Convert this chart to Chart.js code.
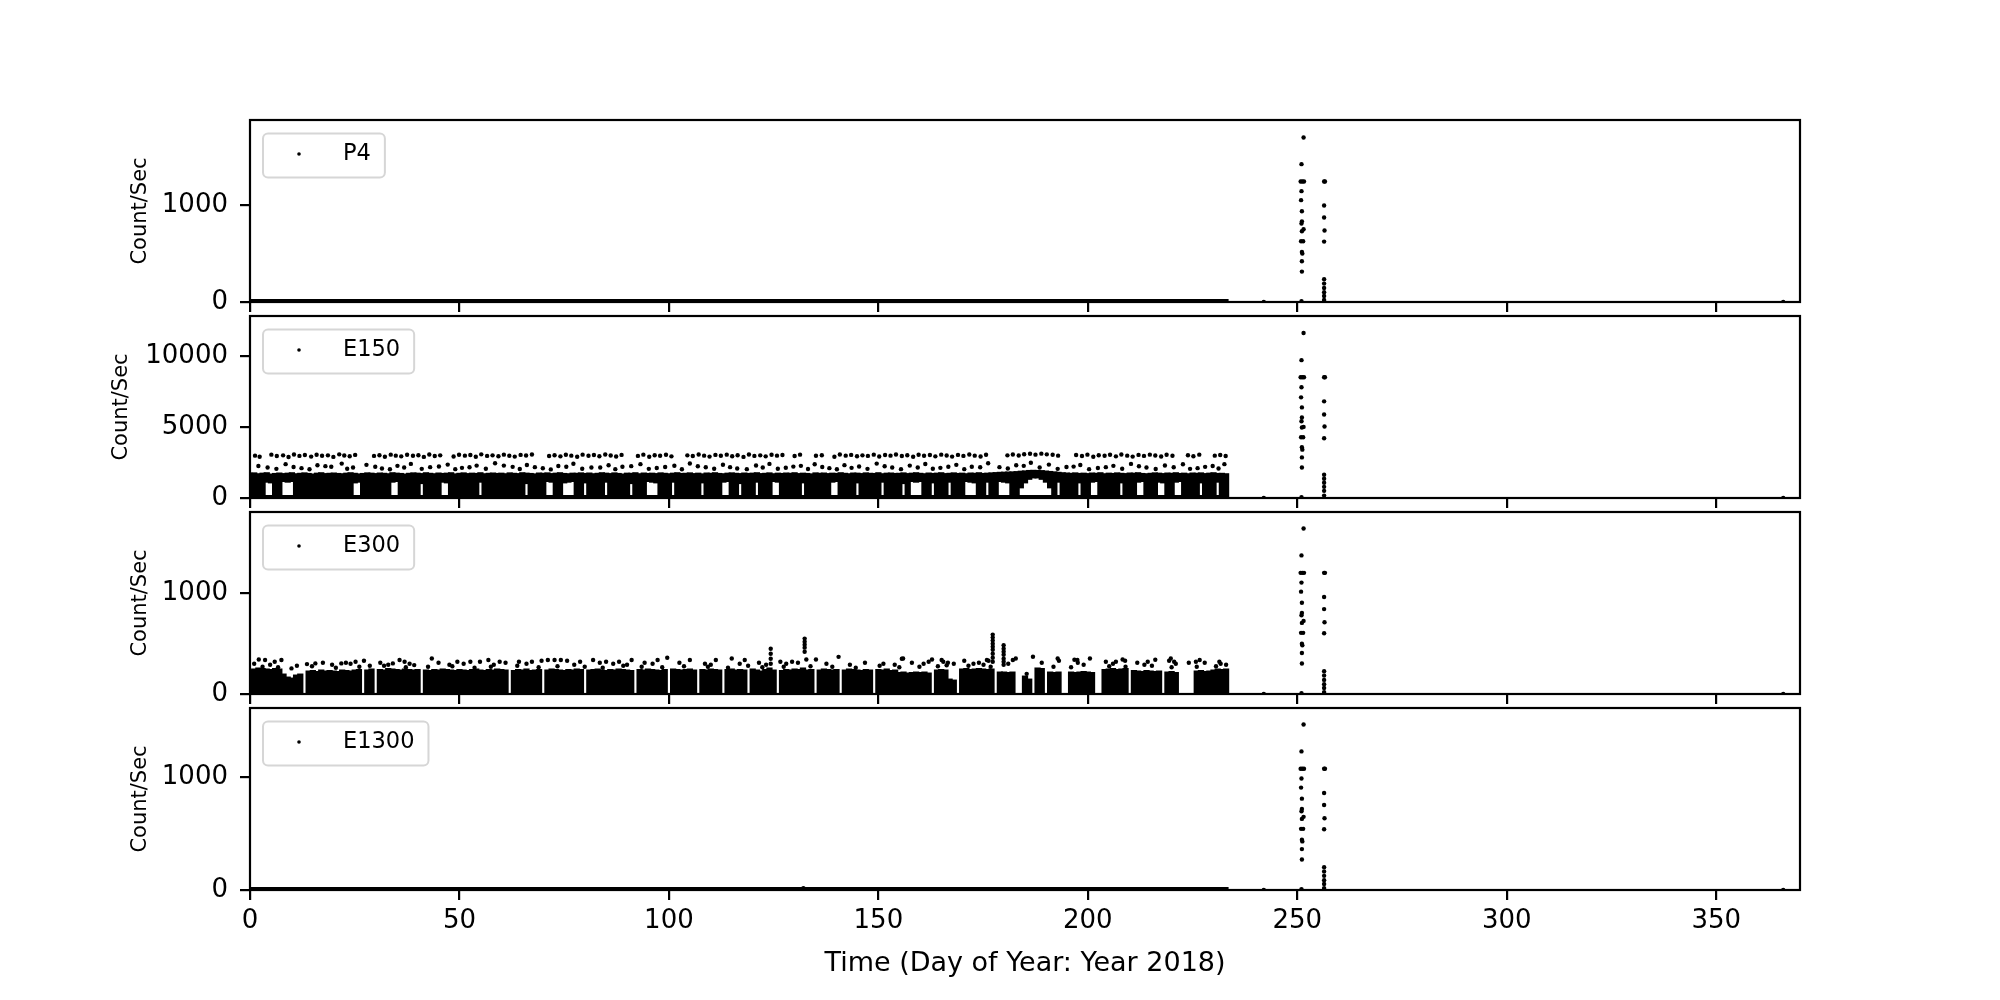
<!DOCTYPE html>
<html>
<head>
<meta charset="utf-8">
<script src="https://cdn.jsdelivr.net/npm/chart.js@4.4.0/dist/chart.umd.min.js"></script>
<style>
    html, body { margin: 0; padding: 0; background: #fff; }
    #wrap { position: relative; width: 2000px; height: 1000px; background: #fff; }
    #wrap canvas { position: absolute; left: 0; }
</style>
</head>
<body>
<div id="wrap">
    <canvas id="cP4" width="2000" height="208" style="top:110px"></canvas>
    <canvas id="cE150" width="2000" height="208" style="top:306px"></canvas>
    <canvas id="cE300" width="2000" height="208" style="top:502px"></canvas>
    <canvas id="cE1300" width="2000" height="286" style="top:698px"></canvas>
</div>
<script>
// ---- data ----
const xTicks = [0, 50, 100, 150, 200, 250, 300, 350];
const p4YTicks = [0, 1000];
const e150YTicks = [0, 5000, 10000];
const e300YTicks = [0, 1000];
const e1300YTicks = [0, 1000];

// the two bursts near day 251 and day 256 (same sample times in every channel)
const spikeADays = [251.5, 251.0, 250.8, 251.2, 251.6, 251.0, 250.9, 251.1, 251.1, 251.0, 251.5, 251.1, 250.9, 251.4, 251.1, 251.2, 251.1, 251.1, 251.0];
const spikeBDays = [256.4, 256.6, 256.4, 256.4, 256.5, 256.4, 256.4, 256.4, 256.4, 256.4, 256.4, 256.4];
const zeroDays = [242, 366];
const zeroVals = [0, 0];

const p4SpikeA = [1700, 1424, 1245, 1245, 1245, 1145, 1052, 938, 833, 810, 752, 731, 628, 628, 517, 500, 421, 314, 8];
const p4SpikeB = [1245, 1245, 997, 873, 738, 624, 235, 190, 145, 100, 62, 20];
const e150SpikeA = [11605, 9696, 8494, 8494, 8494, 7786, 7079, 6372, 5665, 5403, 5000, 4958, 4272, 4272, 3564, 3400, 2857, 2150, 50];
const e150SpikeB = [8494, 8494, 6796, 5877, 5028, 4200, 1633, 1350, 1068, 785, 502, 170];
const e300SpikeA = [1643, 1376, 1203, 1203, 1203, 1106, 1016, 906, 805, 782, 726, 706, 607, 607, 499, 483, 407, 303, 8];
const e300SpikeB = [1203, 1203, 963, 843, 713, 603, 227, 184, 140, 97, 60, 19];
const e1300SpikeA = [1464, 1226, 1072, 1072, 1072, 986, 906, 808, 717, 697, 647, 629, 541, 541, 445, 430, 362, 270, 8];
const e1300SpikeB = [1072, 1072, 858, 752, 635, 537, 202, 164, 125, 86, 53, 17];
const e1300ExtraDays = [132.1];
const e1300ExtraVals = [15];

// near-zero quiet level (days 0 - 233.6)
const quietDays = [0.2, 233.6];
const quietVals = [0, 0];

// E150: dense band, one value per day (day 0 .. 233)
const e150Top = [
    1750,1780,1720,1760,1790,1700,1740,1770,1730,1760,1790,1720,1750,1780,1740,1700,1760,1790,1730,1750,
    1770,1740,1720,1760,1790,1750,1710,1740,1780,1760,1730,1770,1750,1720,1790,1760,1740,1700,1750,1780,
    1760,1730,1790,1750,1720,1770,1740,1760,1790,1710,1750,1780,1730,1760,1740,1790,1720,1750,1770,1740,
    1760,1720,1780,1750,1730,1790,1760,1740,1710,1770,1750,1780,1730,1760,1790,1740,1720,1760,1750,1780,
    1740,1770,1720,1750,1790,1760,1730,1780,1740,1700,1760,1750,1790,1720,1770,1740,1760,1730,1780,1750,
    1720,1760,1790,1740,1750,1780,1730,1760,1710,1770,1750,1790,1740,1720,1760,1780,1750,1730,1770,1740,
    1760,1790,1730,1750,1780,1720,1760,1740,1770,1750,1790,1730,1760,1740,1710,1780,1750,1770,1730,1760,
    1740,1790,1750,1720,1770,1760,1730,1780,1750,1740,1790,1720,1760,1770,1740,1750,1780,1730,1760,1790,
    1750,1720,1770,1740,1760,1790,1730,1750,1780,1740,1760,1720,1770,1750,1790,1740,1760,1780,1800,1820,
    1830,1840,1850,1870,1900,1920,1950,1960,1950,1940,1910,1880,1850,1820,1790,1770,1750,1780,1740,1760,
    1730,1770,1750,1790,1720,1760,1740,1780,1750,1730,1770,1760,1790,1740,1720,1750,1780,1760,1730,1770,
    1750,1790,1740,1760,1720,1770,1750,1780,1730,1760,1790,1740,1750,1720
];
// days where the lower part of the E150 band is empty, and where the band starts there
const e150NotchDays = [4,5,8,9,10,25,26,34,35,41,46,47,55,66,71,72,75,76,77,80,85,91,95,96,97,101,108,113,114,117,
    121,125,126,132,139,140,145,151,156,158,159,160,163,167,171,172,173,176,179,180,181,
    184,185,186,187,188,189,190,191,193,198,201,202,208,212,213,217,218,221,222,227,231];
const e150NotchLow = [1100,1050,1150,1100,1150,1050,1100,1100,1150,1000,1100,1050,1100,1000,1150,1100,1050,1100,1150,1050,1100,1000,1150,1100,1050,1100,1050,1100,1150,1000,
    1100,1150,1100,1050,1100,1150,1050,1100,1000,1150,1100,1150,1050,1100,1150,1100,1050,1100,1150,1100,1050,
    700,1050,1300,1400,1400,1300,1100,700,1100,1050,1100,1150,1050,1100,1150,1100,1050,1100,1150,1050,1100];

// E150 upper scattered rows
const e150UpperDays = [1.2,2.3,5.1,6.4,7.9,9.2,10.5,11.8,13.1,14.6,15.9,17.2,18.6,19.9,21.3,22.5,23.8,25.1,29.6,30.9,
    32.2,33.6,34.8,36.1,37.5,38.9,40.2,41.5,42.8,44.1,45.4,48.6,49.9,51.3,52.6,53.9,55.2,56.6,57.9,59.3,
    60.6,61.9,63.2,64.6,65.9,67.3,71.4,72.7,74.1,75.4,76.7,78.1,79.4,80.8,82.1,83.4,84.8,86.1,87.4,88.7,
    92.6,93.9,95.3,96.6,97.9,99.3,100.6,104.4,105.7,107.1,108.4,109.7,111.1,112.4,113.8,115.1,116.4,117.8,119.1,120.4,
    121.8,123.1,124.5,125.8,127.1,130.0,131.3,135.1,136.5,139.5,140.8,142.2,143.5,144.9,146.2,147.5,148.9,150.2,151.6,152.9,
    154.2,155.6,156.9,158.3,159.6,160.9,162.3,163.6,165.0,166.3,167.6,169.0,170.3,171.7,173.0,174.4,175.7,180.8,182.1,183.5,
    184.8,186.2,187.5,188.9,190.2,191.6,192.9,197.2,198.6,199.9,201.3,202.6,204.0,205.3,206.7,208.0,209.4,210.7,212.1,213.4,
    214.8,216.1,217.5,218.8,220.2,223.9,225.2,226.6,230.3,231.6,232.9];
const e150UpperVals = [2980,2900,3050,2950,3000,2880,3060,2960,3020,2910,3040,2970,3000,2890,3070,2990,2940,3030,2960,3010,
    2900,3050,2980,2930,3040,2970,3010,2890,3060,2950,3000,2920,3040,2980,3020,2900,3070,2960,3000,2940,
    3050,2970,2910,3030,2990,3060,2950,3010,2930,3040,2980,2900,3050,2970,3020,2940,3060,2990,2920,3030,
    2960,3050,2900,3010,2970,3040,2930,3000,2950,3060,2980,2910,3030,2970,3050,2940,3010,2890,3060,2960,
    3000,2930,3040,2980,3020,2950,3050,2970,3010,2900,3060,2980,3030,2940,3000,2960,3050,2920,3020,2980,
    3060,2950,3010,2900,3040,2970,3020,2930,3050,2990,2910,3030,2960,3060,2980,2920,3040,3000,3060,2990,
    3080,3110,3050,3120,3070,3040,2980,3020,2950,3050,2900,3010,2970,3040,2930,3060,2980,2910,3030,2960,
    3050,2990,2920,3040,2970,3010,2940,3050,2980,3020,2950];
const e150MidDays = [2.0,4.2,8.5,12.3,16.1,19.4,21.9,24.6,27.8,31.5,35.2,38.4,43.0,47.2,50.6,54.1,58.5,62.7,66.1,69.9,
    73.6,77.2,81.5,85.6,88.9,93.2,97.1,101.3,105.0,108.8,112.9,116.3,120.8,124.0,127.9,131.5,134.8,138.3,141.9,145.4,
    149.6,153.3,157.5,161.2,164.8,168.6,172.3,176.2,178.9,182.9,186.4,190.7,194.9,198.2,202.4,206.1,210.3,214.0,218.4,222.7,
    226.2,229.8,232.6,
    6.3,10.4,14.2,18.0,23.2,29.9,33.4,36.8,41.0,45.1,49.0,52.4,56.3,60.6,64.4,68.0,71.8,75.5,79.3,83.6,
    87.2,91.0,95.2,99.1,103.1,106.9,110.8,114.6,118.6,122.4,126.0,129.7,133.2,136.6,140.1,143.6,147.4,151.5,155.4,159.4,
    163.0,166.7,170.5,174.3,180.9,184.7,188.5,192.8,196.6,200.3,204.3,208.2,212.2,216.2,220.5,224.4,228.0,231.2];
const e150MidVals = [2250,2150,2380,2100,2300,2200,2420,2150,2330,2080,2260,2400,2170,2350,2120,2280,2440,2190,2320,2090,
    2250,2410,2140,2300,2200,2380,2110,2270,2430,2160,2340,2080,2290,2400,2130,2260,2370,2100,2310,2220,
    2420,2150,2280,2390,2120,2330,2200,2440,2170,2300,2480,2350,2180,2320,2110,2260,2400,2140,2290,2370,
    2100,2250,2380,
    2050,2180,2020,2240,2060,2200,2020,2140,2050,2220,2030,2160,2060,2280,2040,2170,2010,2200,2060,2150,
    2030,2240,2050,2180,2020,2230,2060,2170,2030,2150,2060,2210,2040,2180,2020,2120,2050,2230,2030,2150,
    2060,2200,2030,2160,2080,2260,2150,2050,2210,2030,2170,2060,2230,2040,2160,2050,2190,2070];

// E300: dense band top, one value per day (0 = no data that day)
const e300Top = [
    240,250,260,255,250,245,255,250,200,170,160,190,200,0,230,235,225,240,230,235,
    230,225,240,235,230,240,245,0,240,250,0,245,240,255,250,245,240,250,245,240,
    245,0,240,235,245,240,250,245,240,235,245,240,235,245,250,240,235,245,240,250,
    245,240,0,235,245,240,250,235,240,245,0,240,250,245,240,235,245,240,250,245,
    0,240,245,250,240,235,245,240,250,245,240,235,0,245,240,250,245,240,235,245,
    0,250,245,240,245,250,240,0,245,240,250,245,240,0,245,250,240,245,240,0,
    250,240,230,245,260,240,0,235,245,240,250,245,260,240,245,0,240,250,245,240,
    245,0,240,250,245,240,235,245,240,0,245,240,250,235,240,215,220,210,215,220,
    215,220,210,0,240,245,240,150,140,0,250,255,245,250,255,250,245,250,0,220,
    220,215,220,0,0,180,150,0,260,255,0,220,215,220,0,0,220,215,220,225,
    220,215,0,0,245,250,255,245,250,255,0,235,230,225,235,230,225,230,0,220,
    225,215,0,0,0,0,230,235,225,230,240,250,245,250
];
const e300DotDays = [2.1,3.6,5.9,7.5,9.9,13.6,15.6,21.8,22.9,25.2,27.2,31.1,34.1,35.7,36.9,39.2,43.4,49.5,52.6,54.9,
    56.9,59.6,64.2,67.3,69.6,71.1,72.7,74.2,75.7,78.8,81.9,85.0,88.1,91.1,94.2,97.3,99.6,105.0,111.2,115.0,
    118.1,126.6,129.4,132.8,135.1,140.5,155.9,162.0,162.8,165.1,166.6,175.9,182.1,182.8,192.8,197.5,200.5,206.7,208.3,219.8,
    220.6,226.7,231.4,
    155.6,160.8,165.5,166.3,170.5,172.7,175.1,176.3,186.9,193.1,196.8,197.6,204.3,208.9,214.3,216.1,219.4,224.1,225.8,231.7,
    124.3,124.3,124.3,124.3,132.4,132.4,132.4,132.4,132.4,
    177.3,177.3,177.3,177.3,177.3,177.3,177.3,177.3,177.3,179.9,179.9,179.9,179.9,179.9,179.9,179.9];
const e300DotVals = [343,337,320,337,254,297,304,304,310,320,330,310,304,337,320,287,353,320,320,320,
    337,320,320,320,330,337,337,337,330,320,337,320,320,337,310,337,360,337,337,353,
    337,320,320,343,343,369,353,320,343,337,310,337,337,353,353,337,353,320,343,353,
    320,337,320,
    350,300,320,285,330,300,290,330,370,330,340,310,320,330,320,340,330,310,320,300,
    300,350,400,450,420,460,490,520,550,
    320,360,400,440,470,500,530,560,590,290,320,350,390,420,450,485];
const e300LowDotDays = [1.0,4.8,11.2,17.4,19.6,24.0,28.6,33.0,38.1,45.0,47.6,51.0,58.2,61.0,66.0,77.4,83.5,86.7,90.0,96.1,
    102.5,108.6,110.0,116.9,121.5,123.2,128.0,130.8,137.6,143.2,146.8,151.2,153.9,158.0,168.0,174.0,181.0,189.0,199.0,206.0,
    211.8,213.5,221.0,227.9,233.0,
    3.0,6.7,14.8,20.5,26.1,32.0,37.2,42.5,48.3,53.6,57.5,63.8,68.9,73.4,79.9,84.2,89.1,93.5,98.4,103.6,
    109.3,114.1,118.9,122.3,127.4,133.8,139.0,144.6,150.3,155.0,159.8,164.2,171.5,176.8,185.4,191.8,196.0,205.1,209.0,215.3,
    220.0,226.0,230.6];
const e300LowDotVals = [300,290,280,310,290,300,280,290,300,310,290,300,290,310,300,290,310,300,290,300,
    310,300,290,300,310,290,300,310,300,290,310,300,290,310,300,310,300,310,290,300,
    310,290,300,310,290,
    270,265,275,260,270,280,265,270,275,260,270,280,265,275,270,260,280,270,265,275,
    270,260,280,265,270,275,270,260,280,265,270,275,280,270,200,270,265,275,270,280,
    265,270,275];

// ---- helpers ----
const FONT = '"DejaVu Sans", sans-serif';
Chart.defaults.font.family = FONT;
Chart.defaults.color = '#000';

function pts(xs, ys) {
    return xs.map((x, i) => ({ x: x, y: ys[i] }));
}

function e150Band() {
    return e150Top.map((top, day) => {
        const k = e150NotchDays.indexOf(day);
        const low = k >= 0 ? e150NotchLow[k] : 0;
        return { x: day, y: [low, top] };
    });
}

function e300Band() {
    return e300Top
        .map((top, day) => ({ x: day, y: [0, top] }))
        .filter(p => p.y[1] > 0);
}

function dots(data) {
    return {
        type: 'scatter', data: data, backgroundColor: '#000', borderWidth: 0,
        pointRadius: 2.2, pointHoverRadius: 2.2, pointBorderWidth: 0, clip: 0
    };
}

function quietLine() {
    return {
        type: 'line', data: pts(quietDays, quietVals), borderColor: '#000', borderWidth: 6,
        pointRadius: 0, fill: false, clip: 0
    };
}

function band(data) {
    return {
        type: 'bar', data: data, backgroundColor: '#000', borderWidth: 0,
        barThickness: 5.6, grouped: false, clip: 0
    };
}

// axes frame
const framePlugin = {
    id: 'frame',
    afterDraw(chart) {
        const a = chart.chartArea, ctx = chart.ctx;
        ctx.save();
        ctx.strokeStyle = '#000';
        ctx.lineWidth = 2.2;
        ctx.strokeRect(a.left, a.top, a.right - a.left, a.bottom - a.top);
        ctx.restore();
    }
};

// legend box in the upper left corner of each panel
const boxLegend = {
    id: 'boxLegend',
    afterDatasetsDraw(chart, args, opts) {
        const a = chart.chartArea, ctx = chart.ctx;
        ctx.save();
        ctx.font = '22.5px ' + FONT;
        const tw = ctx.measureText(opts.text).width;
        const x = a.left + 13, y = a.top + 13.5, w = 80 + tw + 14, h = 44, r = 5;
        ctx.beginPath();
        ctx.moveTo(x + r, y);
        ctx.arcTo(x + w, y, x + w, y + h, r);
        ctx.arcTo(x + w, y + h, x, y + h, r);
        ctx.arcTo(x, y + h, x, y, r);
        ctx.arcTo(x, y, x + w, y, r);
        ctx.closePath();
        ctx.fillStyle = 'rgba(255,255,255,0.8)';
        ctx.fill();
        ctx.strokeStyle = '#d6d6d6';
        ctx.lineWidth = 2;
        ctx.stroke();
        ctx.fillStyle = '#000';
        ctx.beginPath();
        ctx.arc(a.left + 49, a.top + 34, 1.8, 0, Math.PI * 2);
        ctx.fill();
        ctx.textBaseline = 'middle';
        ctx.textAlign = 'left';
        ctx.fillText(opts.text, a.left + 93, a.top + 34);
        ctx.restore();
    }
};

function makePanel(p) {
    const tickGrid = {
        drawOnChartArea: false, drawTicks: true, tickLength: 10, offset: false,
        tickWidth: 2.2, tickColor: '#000', color: '#000', lineWidth: 2.2
    };
    return new Chart(document.getElementById(p.id), {
        type: 'scatter',
        data: { datasets: p.datasets },
        plugins: [framePlugin, boxLegend],
        options: {
            responsive: false,
            animation: false,
            devicePixelRatio: 1,
            events: [],
            layout: { padding: { left: p.padLeft, right: 200, top: 10, bottom: 0 } },
            plugins: {
                legend: { display: false },
                tooltip: { enabled: false },
                boxLegend: { text: p.label }
            },
            scales: {
                x: {
                    type: 'linear', min: 0, max: 370, offset: false,
                    grid: tickGrid,
                    border: { display: false },
                    ticks: {
                        display: p.bottom, autoSkip: false, maxRotation: 0, padding: 6,
                        font: { size: 26 }, color: '#000',
                        callback: v => String(v)
                    },
                    afterBuildTicks(s) { s.ticks = xTicks.map(v => ({ value: v })); },
                    title: {
                        display: p.bottom, text: 'Time (Day of Year: Year 2018)',
                        font: { size: 27 }, color: '#000', padding: { top: 4, bottom: 4 }
                    },
                    afterFit(s) {
                        s.height = p.bottom ? 94 : 16;
                        s.paddingLeft = 0; s.paddingRight = 0;
                    }
                },
                y: {
                    type: 'linear', min: 0, max: p.ymax,
                    grid: tickGrid,
                    border: { display: false },
                    ticks: {
                        padding: 12, font: { size: 26 }, color: '#000',
                        callback: v => String(v)
                    },
                    afterBuildTicks(s) { s.ticks = p.yTicks.map(v => ({ value: v })); },
                    title: {
                        display: true, text: 'Count/Sec',
                        font: { size: 21 }, color: '#000', padding: { top: 4, bottom: 4 }
                    },
                    afterFit(s) {
                        s.width = 250 - p.padLeft;
                        s.paddingTop = 0; s.paddingBottom = 0;
                    }
                }
            }
        }
    });
}

const spikes = (a, b) => pts(spikeADays, a).concat(pts(spikeBDays, b), pts(zeroDays, zeroVals));

const panels = [
    {
        id: 'cP4', label: 'P4', ymax: 1880, yTicks: p4YTicks, padLeft: 124, bottom: false,
        datasets: [quietLine(), dots(spikes(p4SpikeA, p4SpikeB))]
    },
    {
        id: 'cE150', label: 'E150', ymax: 12800, yTicks: e150YTicks, padLeft: 105, bottom: false,
        datasets: [
            band(e150Band()), quietLine(),
            dots(pts(e150UpperDays, e150UpperVals).concat(pts(e150MidDays, e150MidVals))),
            dots(spikes(e150SpikeA, e150SpikeB))
        ]
    },
    {
        id: 'cE300', label: 'E300', ymax: 1807, yTicks: e300YTicks, padLeft: 124, bottom: false,
        datasets: [
            band(e300Band()),
            dots(pts(e300DotDays, e300DotVals).concat(pts(e300LowDotDays, e300LowDotVals))),
            dots(spikes(e300SpikeA, e300SpikeB))
        ]
    },
    {
        id: 'cE1300', label: 'E1300', ymax: 1610, yTicks: e1300YTicks, padLeft: 124, bottom: true,
        datasets: [
            quietLine(),
            dots(spikes(e1300SpikeA, e1300SpikeB).concat(pts(e1300ExtraDays, e1300ExtraVals)))
        ]
    }
];

panels.forEach(makePanel);
</script>
</body>
</html>
